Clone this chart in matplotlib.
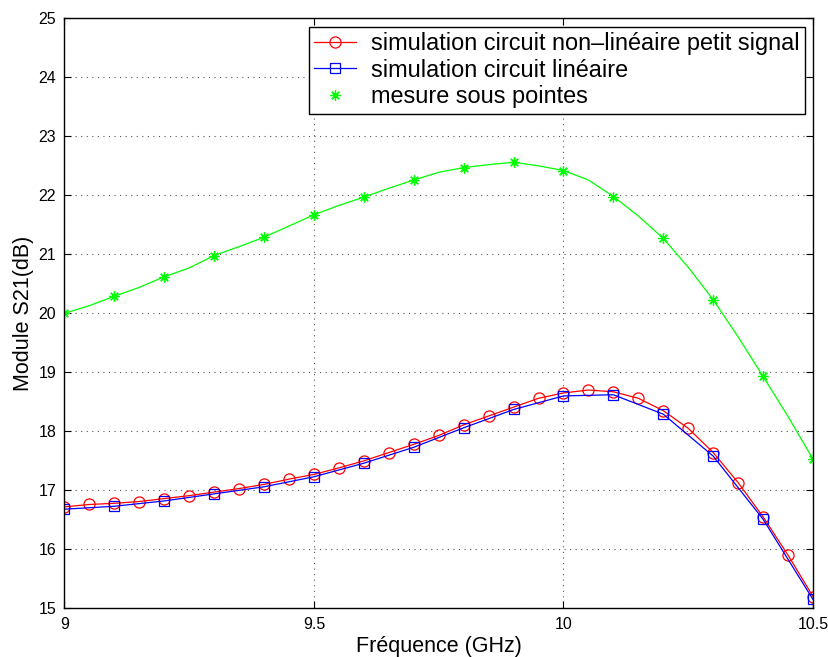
import matplotlib
matplotlib.use("Agg")
from matplotlib import pyplot as plt

# frequency grid of the simulated curves (GHz)
freq_fine = [9.00, 9.05, 9.10, 9.15, 9.20, 9.25, 9.30, 9.35, 9.40, 9.45,
             9.50, 9.55, 9.60, 9.65, 9.70, 9.75, 9.80, 9.85, 9.90, 9.95,
             10.00, 10.05, 10.10, 10.15, 10.20, 10.25, 10.30, 10.35, 10.40,
             10.45, 10.50]
freq_coarse = [9.0, 9.1, 9.2, 9.3, 9.4, 9.5, 9.6, 9.7, 9.8, 9.9,
               10.0, 10.1, 10.2, 10.3, 10.4, 10.5]

# simulation circuit non-lineaire petit signal (dB)
s21_nonlin = [16.72, 16.76, 16.78, 16.81, 16.86, 16.91, 16.97, 17.03, 17.10,
              17.19, 17.27, 17.38, 17.50, 17.64, 17.78, 17.93, 18.11, 18.26,
              18.41, 18.56, 18.65, 18.70, 18.67, 18.56, 18.35, 18.05, 17.64,
              17.13, 16.55, 15.90, 15.20]

# simulation circuit lineaire (dB)
s21_lin = [16.68, 16.73, 16.82, 16.94, 17.06, 17.23, 17.46, 17.73, 18.06,
           18.37, 18.60, 18.62, 18.29, 17.58, 16.51, 15.15]

# mesure sous pointes: fitted curve and measured points (dB)
s21_mes_curve = [20.00, 20.13, 20.29, 20.44, 20.62, 20.77, 20.98, 21.13,
                 21.29, 21.48, 21.67, 21.83, 21.97, 22.12, 22.26, 22.39,
                 22.47, 22.52, 22.56, 22.50, 22.42, 22.26, 21.98, 21.65,
                 21.27, 20.78, 20.23, 19.60, 18.93, 18.25, 17.53]
s21_mes = [20.00, 20.29, 20.62, 20.98, 21.29, 21.67, 21.97, 22.26, 22.47,
           22.56, 22.42, 21.98, 21.27, 20.23, 18.93, 17.53]

xticks = [9, 9.5, 10, 10.5]
xticklabels = ["9", "9.5", "10", "10.5"]
yticks = [15, 16, 17, 18, 19, 20, 21, 22, 23, 24, 25]

plt.rcParams['font.family'] = ['Liberation Sans', 'DejaVu Sans']

fig = plt.figure(figsize=(8.29, 6.57), dpi=100)
ax = fig.add_axes([0.0778, 0.0741, 0.9029, 0.898])

ax.plot(freq_fine, s21_nonlin, color=(1, 0, 0), lw=0.9, marker='o',
        ms=8, mfc='none', mec=(1, 0, 0), mew=0.9,
        label="simulation circuit non\u2013linéaire petit signal")
ax.plot(freq_coarse, s21_lin, color=(0, 0, 1), lw=0.9, marker='s',
        ms=6.5, mfc='none', mec=(0, 0, 1), mew=0.9,
        label="simulation circuit linéaire")
ax.plot(freq_fine, s21_mes_curve, color=(0, 1, 0), lw=0.9)
ax.plot(freq_coarse, s21_mes, ls='none', marker=(8, 2, 0), ms=7.5,
        mec=(0, 1, 0), mew=0.9, label="mesure sous pointes")

ax.set_xlim(9, 10.5)
ax.set_ylim(15, 25)
ax.set_xticks(xticks)
ax.set_xticklabels(xticklabels)
ax.set_yticks(yticks)
ax.tick_params(direction='in', top=True, right=True, length=5, width=0.8,
               labelsize=11.5, pad=6)
ax.grid(True, color='#555555', ls=(0, (1, 4)), lw=0.8)
for sp in ax.spines.values():
    sp.set_linewidth(1.0)

ax.set_xlabel("Fréquence (GHz)", fontsize=15.5, labelpad=3)
ax.set_ylabel("Module S21(dB)", fontsize=15.5, labelpad=3)

leg = ax.legend(loc='upper right', bbox_to_anchor=(0.9893, 0.9858),
                borderaxespad=0, fontsize=16.9, fancybox=False,
                framealpha=1, edgecolor='black', handlelength=1.8,
                borderpad=0.22, labelspacing=0.16, handletextpad=0.65)
leg.get_frame().set_linewidth(1.0)

fig.savefig("out.png", dpi=100)
